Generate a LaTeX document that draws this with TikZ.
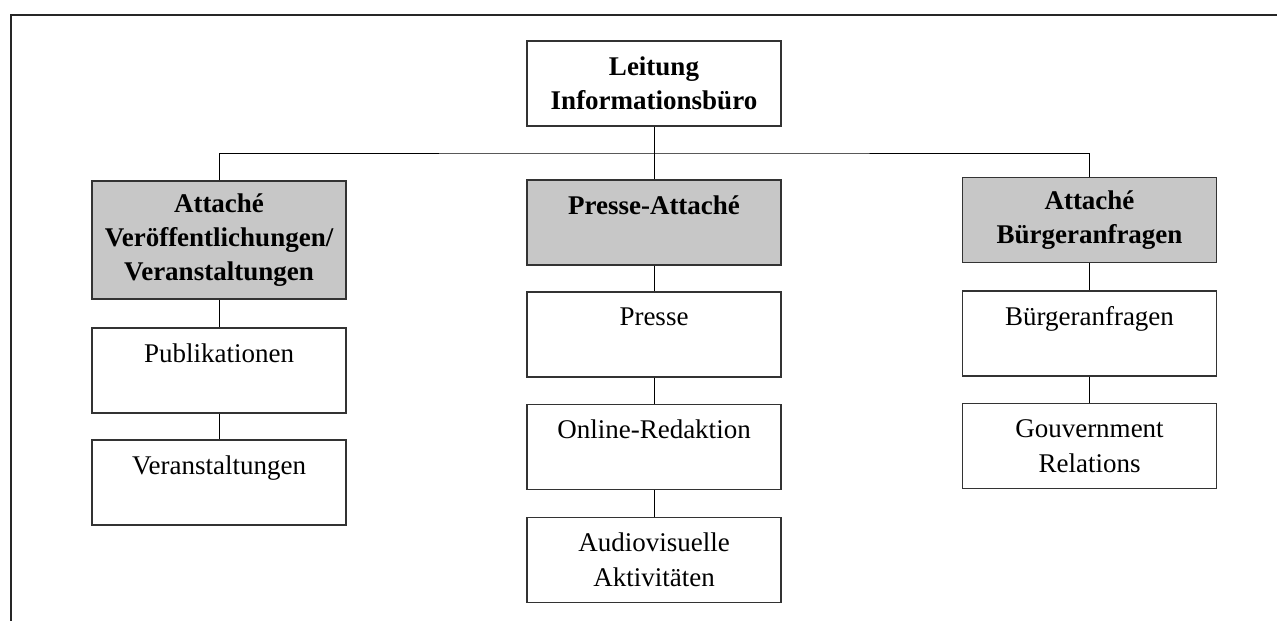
\documentclass[tikz,border=0pt]{standalone}
\usepackage{fontspec}
\setmainfont{Liberation Serif}
\begin{document}
\begin{tikzpicture}[x=0.5pt,y=-0.5pt]
  \tikzstyle{boxStyle}=[draw=black!80,line width=0.6pt,inner sep=0pt,align=center,font=\fontsize{13.5}{17.5}\selectfont]
  \tikzstyle{plain}=[boxStyle,fill=white,minimum width=127pt,minimum height=42.5pt]
  \tikzstyle{head}=[boxStyle,fill=black!22,minimum width=127pt,minimum height=42.5pt,font=\fontsize{13.5}{17}\selectfont\bfseries]
  \tikzstyle{top}=[plain,font=\fontsize{13.5}{17}\selectfont\bfseries]

  \useasboundingbox (0,0) rectangle (1282,621);
  % frame
  \coordinate (frameBL) at (11,621);
  \coordinate (frameTL) at (11,15);
  \coordinate (frameTR) at (1277,15);
  \draw[line width=0.8pt,black!85] (frameBL) -- (frameTL) -- (frameTR);

  \node[top](leitung) at (654,83.5) {Leitung\\Informationsbüro};
  \coordinate (bus) at (654,153);

  \node[head,minimum height=59pt](attVer) at (219,240) {Attaché\\Veröffentlichungen/\\Veranstaltungen};
  \node[head](attPresse) at (654,222.5) {Presse-Attaché\\\mbox{}};
  \node[head](attBuerger) at (1089.5,220) {Attaché\\Bürgeranfragen};
  \draw[-] (leitung) -- (bus);
  \draw[-] (attVer.north) |- (bus) -| (attBuerger.north);
  \draw[-] (bus) -- (attPresse);

  \node[plain](publ) at (219,370.5) {Publikationen\\\mbox{}};
  \draw[-] (attVer) -- (publ);
  \node[plain](veran) at (219,482.5) {Veranstaltungen\\\mbox{}};
  \draw[-] (publ) -- (veran);

  \node[plain](presse) at (654,334.5) {Presse\\\mbox{}};
  \draw[-] (attPresse) -- (presse);
  \node[plain](online) at (654,447) {Online-Redaktion\\\mbox{}};
  \draw[-] (presse) -- (online);
  \node[plain](audio) at (654,560) {Audiovisuelle\\Aktivitäten};
  \draw[-] (online) -- (audio);

  \node[plain](buerger) at (1089.5,333.5) {Bürgeranfragen\\\mbox{}};
  \draw[-] (attBuerger) -- (buerger);
  \node[plain](gouv) at (1089.5,446) {Gouvernment\\Relations};
  \draw[-] (buerger) -- (gouv);
\end{tikzpicture}
\end{document}
